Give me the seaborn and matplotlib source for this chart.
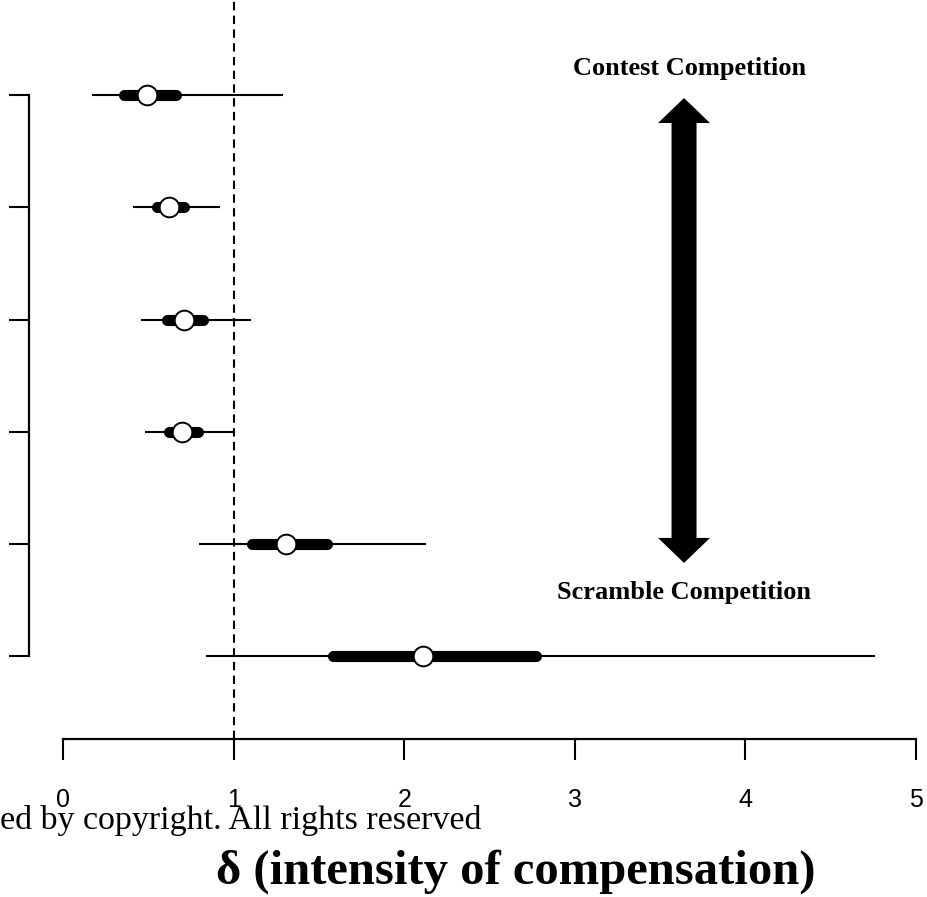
import numpy as np
import pandas as pd
import matplotlib
matplotlib.use("Agg")
import matplotlib.pyplot as plt
from matplotlib.patches import Polygon
import seaborn as sns

# ---- data ----
rows = [0, 1, 2, 3, 4, 5]
median = [0.49, 0.62, 0.71, 0.70, 1.31, 2.11]
lo95 = [0.17, 0.41, 0.46, 0.48, 0.80, 0.84]
hi95 = [1.29, 0.92, 1.10, 1.00, 2.13, 4.76]
lo50 = [0.36, 0.55, 0.61, 0.62, 1.11, 1.58]
hi50 = [0.66, 0.71, 0.82, 0.79, 1.55, 2.77]
xticks = [0, 1, 2, 3, 4, 5]
xticklabels = ["0", "1", "2", "3", "4", "5"]
ref_line = 1.0
xlabel = "δ (intensity of compensation)"
top_text = "Contest Competition"
bottom_text = "Scramble Competition"
watermark = "ed by copyright. All rights reserved"

df = pd.DataFrame({"row": rows, "median": median, "lo95": lo95, "hi95": hi95,
                   "lo50": lo50, "hi50": hi50})

sns.set_theme(style="white")
plt.rcParams["font.family"] = ["Liberation Serif", "DejaVu Serif"]
plt.rcParams["text.color"] = "black"
plt.rcParams["axes.labelcolor"] = "black"
plt.rcParams["xtick.color"] = "black"
plt.rcParams["ytick.color"] = "black"

W, H = 927, 897
fig = plt.figure(figsize=(W / 100, H / 100), dpi=100)
ax_bottom_px = 739
ax = fig.add_axes([0, (H - ax_bottom_px) / H, 1, ax_bottom_px / H])

# intervals
thin = ax.hlines(df["row"], df["lo95"], df["hi95"], color="black", lw=1.5,
                 zorder=2)
thin.set_capstyle("butt")
thick = ax.hlines(df["row"], df["lo50"], df["hi50"], color="black", lw=8,
                  zorder=3)
thick.set_capstyle("round")

sns.scatterplot(data=df, x="median", y="row", ax=ax, s=200, color="white",
                edgecolor="black", linewidth=1.4, zorder=5, legend=False)

# reference line
ax.axvline(ref_line, color="black", lw=1.5, ls=(0, (4, 2.6)), zorder=1)

# scales
ax.set_xlim(-0.369, 5.064)
ax.set_ylim(5.735, -0.846)

# axes styling (R-like)
for s in ["top", "right"]:
    ax.spines[s].set_visible(False)
ax.spines["left"].set_position(("data", -0.2))
ax.spines["left"].set_bounds(0, 5)
ax.spines["bottom"].set_bounds(0, 5)
for s in ["left", "bottom"]:
    ax.spines[s].set_color("black")
    ax.spines[s].set_linewidth(1.6)

ax.set_yticks(rows)
ax.set_yticklabels([])
ax.set_xticks(xticks)
ax.set_xticklabels(xticklabels, family=["Liberation Sans", "DejaVu Sans"],
                   fontsize=18, color="black")
ax.tick_params(axis="y", direction="out", length=14.4, width=1.5, left=True,
               color="black")
ax.tick_params(axis="x", direction="out", length=15, width=1.5, bottom=True,
               color="black", pad=20)
ax.set_xlabel("")
ax.set_ylabel("")
ax.grid(False)
ax.patch.set_alpha(0)

# double-headed arrow
arrow_x = 3.64
arrow_top, arrow_bot = 0.027, 4.167
shaft_hw = 12.5 / 170.6
head_hw = 26 / 170.6
head_len = 25 / 112.3
poly = [
    (arrow_x, arrow_top),
    (arrow_x + head_hw, arrow_top + head_len),
    (arrow_x + shaft_hw, arrow_top + head_len),
    (arrow_x + shaft_hw, arrow_bot - head_len),
    (arrow_x + head_hw, arrow_bot - head_len),
    (arrow_x, arrow_bot),
    (arrow_x - head_hw, arrow_bot - head_len),
    (arrow_x - shaft_hw, arrow_bot - head_len),
    (arrow_x - shaft_hw, arrow_top + head_len),
    (arrow_x - head_hw, arrow_top + head_len),
]
ax.add_patch(Polygon(poly, closed=True, facecolor="black", edgecolor="black",
                     lw=0, zorder=4))

ax.text(3.675, -0.24, top_text, ha="center", va="center", fontsize=19,
        fontweight="bold", color="black")
ax.text(3.64, 4.426, bottom_text, ha="center", va="center", fontsize=19,
        fontweight="bold", color="black")

# x label and watermark
fig.text(516 / W, 1 - 884 / H, xlabel, ha="center", va="baseline",
         fontsize=35, fontweight="bold", color="black")
fig.text(0, 1 - 829 / H, watermark, ha="left", va="baseline", fontsize=24.5,
         color="black")

fig.savefig("out.png", dpi=100)
